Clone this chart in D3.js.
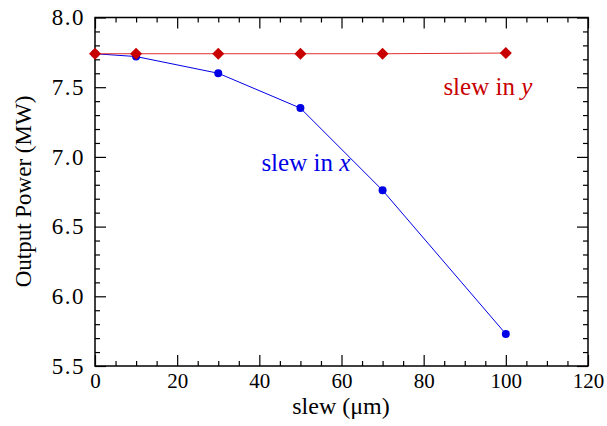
<!DOCTYPE html>
<html>
<head>
<meta charset="utf-8">
<script src="https://cdn.jsdelivr.net/npm/d3@7"></script>
<style>
body { margin: 0; background: #fff; }
text { font-family: "Liberation Serif", "Times New Roman", serif; }
</style>
</head>
<body>
<svg class="chart" width="607" height="426"></svg>
<script>
// data
var slew = [0, 10, 30, 50, 70, 100];
var powerX = [7.74, 7.72, 7.60, 7.35, 6.76, 5.73];
var powerY = [7.74, 7.74, 7.74, 7.74, 7.74, 7.745];
var xTicks = [0, 20, 40, 60, 80, 100, 120];
var yTicks = [5.5, 6.0, 6.5, 7.0, 7.5, 8.0];

var svg = d3.select(".chart");
var margin = {top: 17.5, right: 19, bottom: 60, left: 95},
    width = svg.attr("width") - margin.left - margin.right,
    height = svg.attr("height") - margin.top - margin.bottom;

var g = svg.append("g")
    .attr("transform", "translate(" + margin.left + "," + margin.top + ")");

var x = d3.scaleLinear().domain([0, 120]).range([0, width]);
var y = d3.scaleLinear().domain([5.5, 8.0]).range([height, 0]);

var xMinor = d3.range(0, 121, 5).filter(function(d) { return d % 20 != 0; });
var yMinor = d3.range(55, 81, 1).map(function(d) { return d / 10; })
    .filter(function(d) { return Math.round(d * 10) % 5 != 0; });

function tickAxis(axisFn, scale, vals, len, fmt) {
  return axisFn(scale).tickValues(vals).tickSize(-len).tickPadding(4 + len)
    .tickFormat(fmt || "");
}

// bottom / left with labels
var xa = g.append("g").attr("transform", "translate(0," + height + ")")
  .call(tickAxis(d3.axisBottom, x, xTicks, 11, d3.format("d")));
xa.selectAll(".tick text").attr("dy", "0.71em").attr("y", 7).attr("font-size", 21);
g.append("g").attr("transform", "translate(0," + height + ")")
  .call(tickAxis(d3.axisBottom, x, xMinor, 5));
var ya = g.append("g").call(tickAxis(d3.axisLeft, y, yTicks, 11, d3.format(".1f")));
ya.selectAll(".tick text").attr("x", -10).attr("font-size", 23)
  .attr("letter-spacing", 1.5);
g.append("g").call(tickAxis(d3.axisLeft, y, yMinor, 5));

// top / right, ticks only
g.append("g").call(tickAxis(d3.axisTop, x, xTicks, 11));
g.append("g").call(tickAxis(d3.axisTop, x, xMinor, 5));
g.append("g").attr("transform", "translate(" + width + ",0)")
  .call(tickAxis(d3.axisRight, y, yTicks, 11));
g.append("g").attr("transform", "translate(" + width + ",0)")
  .call(tickAxis(d3.axisRight, y, yMinor, 5));

g.selectAll(".domain").remove();
g.selectAll(".tick line").attr("stroke", "#000").attr("stroke-width", 1.2);
g.selectAll(".tick text").attr("fill", "#000")
  .style("font-family", "Liberation Serif");

g.append("rect").attr("width", width).attr("height", height)
  .attr("fill", "none").attr("stroke", "#000").attr("stroke-width", 1.5);

var line = d3.line()
  .x(function(d) { return x(d[0]); })
  .y(function(d) { return y(d[1]); });

var dx = slew.map(function(s, i) { return [s, powerX[i]]; });
var dy = slew.map(function(s, i) { return [s, powerY[i]]; });

g.append("path").datum(dx).attr("d", line)
  .attr("fill", "none").attr("stroke", "#0000e6").attr("stroke-width", 1);
g.selectAll(".ptx").data(dx).enter().append("circle")
  .attr("cx", function(d) { return x(d[0]); })
  .attr("cy", function(d) { return y(d[1]); })
  .attr("r", 4).attr("fill", "#0000e6");

g.append("path").datum(dy).attr("d", line)
  .attr("fill", "none").attr("stroke", "#e03030").attr("stroke-width", 1);
g.selectAll(".pty").data(dy).enter().append("path")
  .attr("transform", function(d) { return "translate(" + x(d[0]) + "," + y(d[1]) + ")"; })
  .attr("d", "M0,-6L6,0L0,6L-6,0Z")
  .attr("fill", "#c80000");

// series labels
var lx = g.append("text").attr("x", x(40.5)).attr("y", y(6.9))
  .attr("font-size", 25).attr("fill", "#0000e6");
lx.append("tspan").text("slew in ");
lx.append("tspan").attr("font-style", "italic").text("x");

var ly = g.append("text").attr("x", x(84.8)).attr("y", y(7.445))
  .attr("font-size", 25).attr("fill", "#c80000");
ly.append("tspan").text("slew in ");
ly.append("tspan").attr("font-style", "italic").text("y");

// axis titles
svg.append("text").attr("x", 341).attr("y", 414)
  .attr("text-anchor", "middle").attr("font-size", 24).text("slew (\u03bcm)");
svg.append("text")
  .attr("transform", "translate(31,191.5) rotate(-90)")
  .attr("text-anchor", "middle").attr("font-size", 23).text("Output Power (MW)");
</script>
</body>
</html>
